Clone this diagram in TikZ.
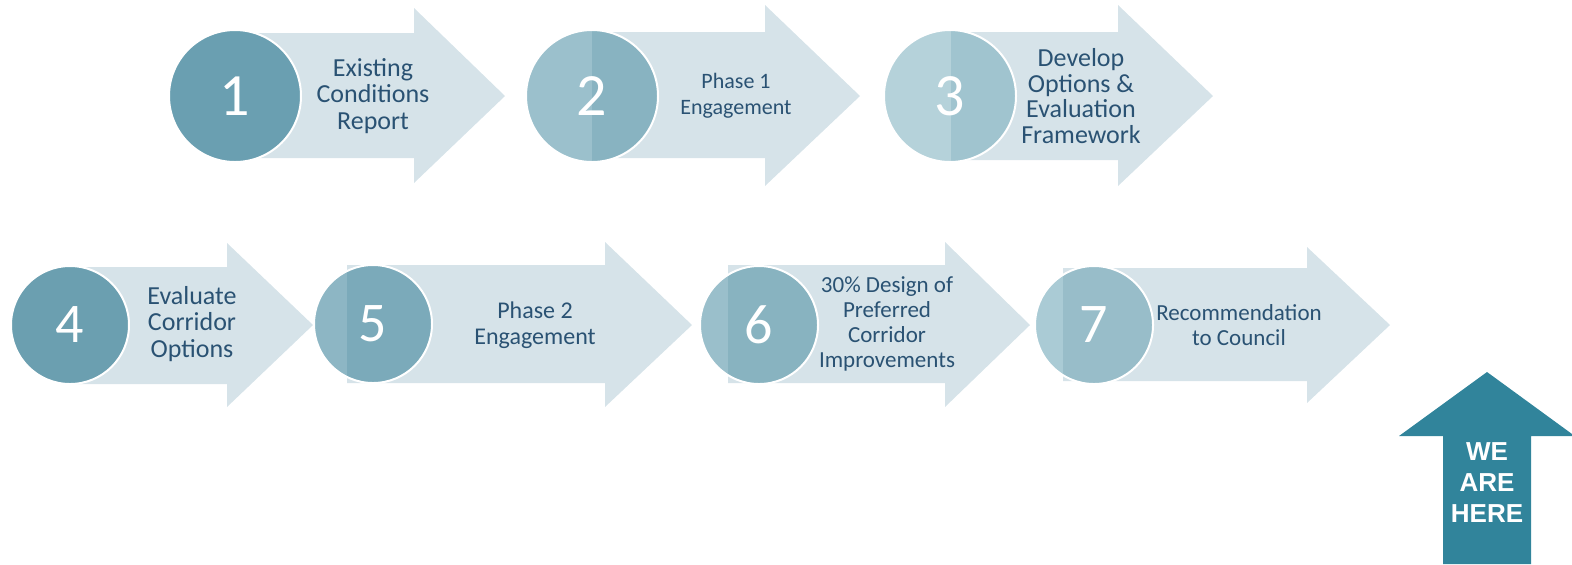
\documentclass[tikz,border=0pt]{standalone}
\usepackage{fontspec}
\setmainfont{Carlito}
\newfontfamily\arialfont{Liberation Sans}
\usepackage{tikz}
\usetikzlibrary{positioning}
\definecolor{myBody}{HTML}{D6E3E9}
\definecolor{myText}{HTML}{2A5273}
\definecolor{myTeal}{HTML}{31849B}
\definecolor{myOne}{HTML}{6A9FB1}
\definecolor{myTwo}{HTML}{88B3C1}
\definecolor{myTwoLit}{HTML}{9BC0CC}
\definecolor{myThree}{HTML}{A0C4CF}
\definecolor{myThreeLit}{HTML}{B5D2DA}
\definecolor{myFour}{HTML}{6B9FB0}
\definecolor{myFive}{HTML}{7BAABA}
\definecolor{myFiveLit}{HTML}{8DB6C4}
\definecolor{mySix}{HTML}{88B3C0}
\definecolor{mySixLit}{HTML}{9ABFCB}
\definecolor{mySeven}{HTML}{98BDC9}
\definecolor{mySevenLit}{HTML}{AACBD5}
\tikzset{stage/.style={draw=white,circle,line width=1pt,inner sep=0pt,text=white}}
\tikzset{lit/.style 2 args={path picture={
    \fill[#1] (path picture bounding box.south west) rectangle ([xshift=#2]path picture bounding box.north west);}}}
\tikzset{stagetext/.style={text=myText,align=center,font=\fontsize{13}{13.3}\selectfont}}

\begin{document}
\begin{tikzpicture}[x=0.5pt,y=-0.5pt,
        toprow/.style={minimum size=66pt,font=\fontsize{30}{30}\selectfont},
        lowrow/.style={minimum size=59pt,font=\fontsize{28}{28}\selectfont},
    ]
    \useasboundingbox (0,0) rectangle (1572,564);

    % Arrow for step 1
    \fill[myBody] (235,33) -- (414,33) -- (414,8) -- (505,96) -- (414,183) -- (414,158) -- (235,158) -- cycle;
    \node[stage,toprow,fill=myOne] (c1) at (235,96) {1};
    \node[stagetext] (t1) at (373,96) {Existing\\Conditions\\Report};

    % Arrow for step 2
    \fill[myBody] (592,32) -- (765,32) -- (765,5) -- (860,96) -- (765,186) -- (765,158) -- (592,158) -- cycle;
    \node[stage,toprow,fill=myTwo,lit={myTwoLit}{33pt}] (c2) at (592,96) {2};
    \node[stagetext,font=\fontsize{11}{13}\selectfont] (t2) at (736,96) {Phase 1\\Engagement};

    % Arrow for step 3
    \fill[myBody] (950,32) -- (1118,32) -- (1118,5) -- (1213,96) -- (1118,186) -- (1118,160) -- (950,160) -- cycle;
    \node[stage,toprow,fill=myThree,lit={myThreeLit}{33.5pt}] (c3) at (950,96) {3};
    \node[stagetext,font=\fontsize{13}{12.8}\selectfont] (t3) at (1081,96) {Develop\\Options \&\\Evaluation\\Framework};

    % Arrow for step 4
    \fill[myBody] (72,267) -- (227,267) -- (227,243) -- (313,325) -- (227,407) -- (227,384) -- (72,384) -- cycle;
    \node[stage,lowrow,fill=myFour] (c4) at (70,325) {4};
    \node[stagetext] (t4) at (192,324) {Evaluate\\Corridor\\Options};

    % Arrow for step 5
    \fill[myBody] (347,265) -- (605,265) -- (605,242) -- (692,325) -- (605,407) -- (605,383) -- (347,383) -- cycle;
    \node[stage,lowrow,fill=myFive,lit={myFiveLit}{16.5pt}] (c5) at (373,324) {5};
    \node[stagetext,font=\fontsize{12}{13}\selectfont] (t5) at (535,325) {Phase 2\\Engagement};

    % Arrow for step 6
    \fill[myBody] (728,265) -- (945,265) -- (945,242) -- (1030,325) -- (945,407) -- (945,383) -- (728,383) -- cycle;
    \node[stage,lowrow,fill=mySix,lit={mySixLit}{14pt}] (c6) at (759,325) {6};
    \node[stagetext,font=\fontsize{11.5}{12.5}\selectfont] (t6) at (887,324) {30\% Design of\\Preferred\\Corridor\\Improvements};

    % Arrow for step 7
    \fill[myBody] (1063,268) -- (1307,268) -- (1307,247) -- (1390,325) -- (1307,403) -- (1307,381) -- (1063,381) -- cycle;
    \node[stage,lowrow,fill=mySeven,lit={mySevenLit}{14pt}] (c7) at (1094,325) {7};
    \node[stagetext,font=\fontsize{11.5}{12.5}\selectfont] (t7) at (1239,325) {Recommendation\\to Council};

    % We are here marker
    \fill[myTeal] (1443,564) -- (1443,436) -- (1399,436) -- (1487,372) -- (1572,434) -- (1572,436) -- (1531,436) -- (1531,564) -- cycle;
    \node[text=white,align=center,font=\arialfont\bfseries\fontsize{13}{15.5}\selectfont] (here) at (1487,483) {WE\\ARE\\HERE};
\end{tikzpicture}
\end{document}
